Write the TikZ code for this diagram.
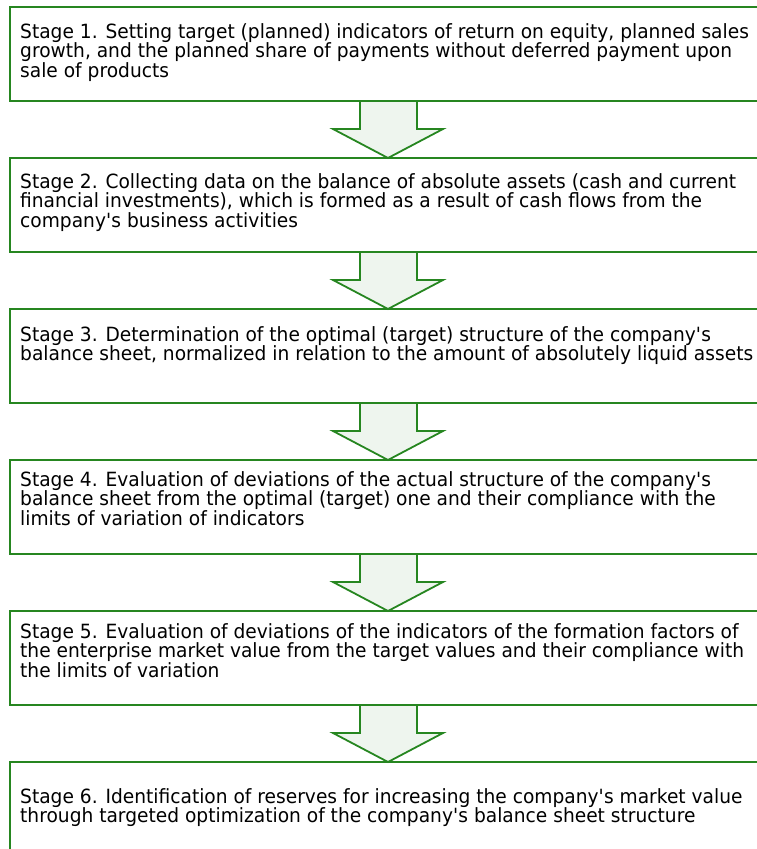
\documentclass[tikz,border=0pt]{standalone}
\usepackage{fontspec}
\setmainfont{DejaVu Sans}[FakeStretch=0.95]
\newcommand\aq{\textquotesingle}
\definecolor{boxgreen}{RGB}{38,134,32}
\definecolor{arrowfill}{RGB}{238,245,238}
\begin{document}
\begin{tikzpicture}[x=1pt,y=-1pt,
  stagebox/.style={draw=boxgreen, line width=2pt, rectangle, anchor=north west,
    minimum width=780pt, minimum height=94pt, inner sep=0pt, outer sep=0pt},
  stagetext/.style={anchor=north west, align=left, inner sep=0pt,
    font=\fontsize{19.6}{19.6}\selectfont},
  flowarrow/.style={draw=boxgreen, line width=1.8pt, fill=arrowfill, line join=miter}]
\useasboundingbox (0,0) rectangle (756,849);
\fill[white] (0,0) rectangle (756,849);

\node[stagebox] (s1) at (10,7) {};
\node[stagebox] (s2) at (10,158) {};
\node[stagebox] (s3) at (10,309) {};
\node[stagebox] (s4) at (10,460) {};
\node[stagebox] (s5) at (10,611) {};
\node[stagebox] (s6) at (10,762) {};

\node[stagetext] (t1) at (20,23) {Stage 1. Setting target (planned) indicators of return on equity, planned sales\\growth, and the planned share of payments without deferred payment upon\\sale of products};
\node[stagetext] (t2) at (20,173) {Stage 2. Collecting data on the balance of absolute assets (cash and current\\financial investments), which is formed as a result of cash flows from the\\company\aq s business activities};
\node[stagetext] (t3) at (20,326) {Stage 3. Determination of the optimal (target) structure of the company\aq s\\balance sheet, normalized in relation to the amount of absolutely liquid assets};
\node[stagetext] (t4) at (20,471) {Stage 4. Evaluation of deviations of the actual structure of the company\aq s\\balance sheet from the optimal (target) one and their compliance with the\\limits of variation of indicators};
\node[stagetext] (t5) at (20,623) {Stage 5. Evaluation of deviations of the indicators of the formation factors of\\the enterprise market value from the target values and their compliance with\\the limits of variation};
\node[stagetext] (t6) at (20,788) {Stage 6. Identification of reserves for increasing the company\aq s market value\\through targeted optimization of the company\aq s balance sheet structure};

\foreach \b in {s1,s2,s3,s4,s5}{
  \draw[flowarrow, shift={(\b.south west)}]
    (350,0) -- (407,0) -- (407,28) -- (433,28) -- (378,57) -- (323,28) -- (350,28) -- cycle;
}
\end{tikzpicture}
\end{document}
